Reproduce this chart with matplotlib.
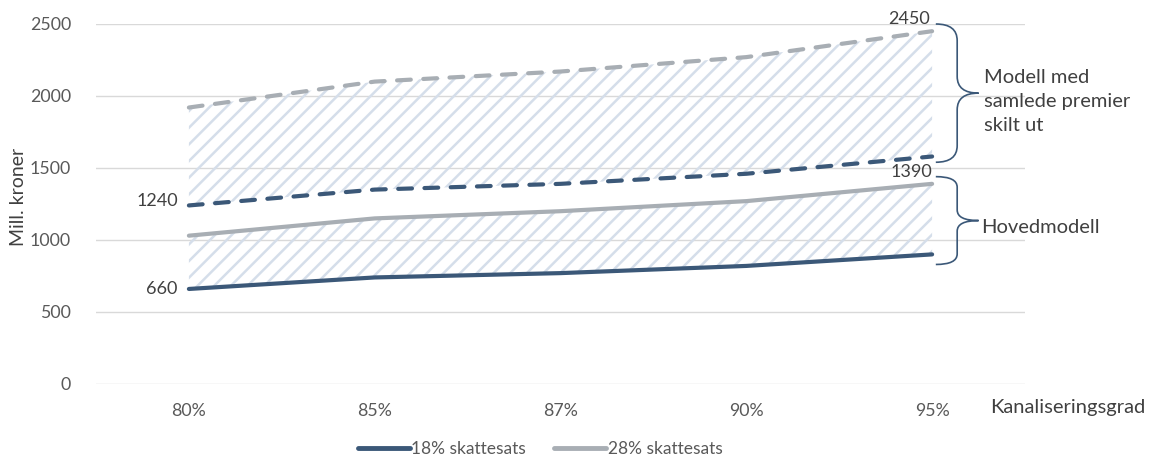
import matplotlib.pyplot as plt
from matplotlib.path import Path
from matplotlib.patches import PathPatch
from matplotlib.lines import Line2D
import numpy as np

plt.rcParams.update({
    "font.family": ["Lato", "DejaVu Sans"],
    "hatch.linewidth": 1.8,
})

# Data
categories = ["80%", "85%", "87%", "90%", "95%"]
main_18 = [660, 740, 770, 820, 900]
main_28 = [1030, 1150, 1200, 1270, 1390]
split_18 = [1240, 1350, 1390, 1460, 1580]
split_28 = [1920, 2100, 2170, 2270, 2450]

DARK = "#3B5878"
GREY = "#A8AEB4"
HATCH = "#D5DEEA"
TXT = "#595959"
TXT2 = "#404040"

fig = plt.figure(figsize=(11.52, 4.59), dpi=100)
ax = fig.add_axes([96 / 1152, 1 - 384 / 459, (1025 - 96) / 1152, 360 / 459])

x = np.arange(len(categories))

# hatched bands
ax.fill_between(x, main_18, main_28, facecolor="none", edgecolor=HATCH,
                hatch="//", linewidth=0, zorder=1)
ax.fill_between(x, split_18, split_28, facecolor="none", edgecolor=HATCH,
                hatch="//", linewidth=0, zorder=1)

ax.plot(x, main_18, color=DARK, lw=3, solid_capstyle="round", zorder=3)
ax.plot(x, main_28, color=GREY, lw=3, solid_capstyle="round", zorder=3)
ax.plot(x, split_18, color=DARK, lw=3, ls=(0, (3.3, 3.0)),
        dash_capstyle="round", zorder=3)
ax.plot(x, split_28, color=GREY, lw=3, ls=(0, (3.3, 3.0)),
        dash_capstyle="round", zorder=3)

ax.set_xlim(-0.5, len(categories) - 0.5)
ax.set_ylim(0, 2500)
ax.set_yticks(np.arange(0, 2501, 500))
ax.set_xticks(x)
ax.set_xticklabels(categories)
ax.grid(axis="y", color="#D9D9D9", lw=1.0, zorder=0)
ax.set_axisbelow(True)
for s in ax.spines.values():
    s.set_visible(False)
ax.tick_params(length=0, labelsize=12.8, colors=TXT, pad=14)
ax.tick_params(axis="y", pad=18)
ax.set_ylabel("Mill. kroner", fontsize=14, color=TXT2)
ax.yaxis.set_label_coords(-0.074, 0.52)

# data labels
lab = dict(fontsize=13, color=TXT2)
ax.text(x[0] - 0.06, main_18[0], str(main_18[0]), ha="right", va="center", **lab)
ax.text(x[0] - 0.06, split_18[0] + 30, str(split_18[0]), ha="right", va="center", **lab)
ax.text(x[-1] + 0.0, main_28[-1] + 30, str(main_28[-1]), ha="right", va="bottom", **lab)
ax.text(x[-1] - 0.01, split_28[-1] + 30, str(split_28[-1]), ha="right", va="bottom", **lab)


def brace(ax, x0, w, ytop, ybot):
    ym = (ytop + ybot) / 2
    xm = x0 + w / 2
    h = (ytop - ybot)
    r = h * 0.12
    verts = [
        (x0, ytop), (xm, ytop), (xm, ytop - r),
        (xm, ym + r), (xm, ym), (x0 + w, ym),
        (xm, ym), (xm, ym - r),
        (xm, ybot + r), (xm, ybot), (x0, ybot),
    ]
    codes = [Path.MOVETO, Path.CURVE3, Path.CURVE3,
             Path.LINETO, Path.CURVE3, Path.CURVE3,
             Path.CURVE3, Path.CURVE3,
             Path.LINETO, Path.CURVE3, Path.CURVE3]
    ax.add_patch(PathPatch(Path(verts, codes), facecolor="none",
                           edgecolor=DARK, lw=1.2, clip_on=False))


brace(ax, 4.02, 0.23, 2500, 1540)
brace(ax, 4.02, 0.23, 1440, 830)

ax.text(4.28, 1960, "Modell med\nsamlede premier\nskilt ut", fontsize=14.5,
        color=TXT2, ha="left", va="center", linespacing=1.5,
        clip_on=False)
ax.text(4.265, 1085, "Hovedmodell", fontsize=14.5, color=TXT2,
        ha="left", va="center", clip_on=False)

fig.text(990 / 1152, 1 - 408 / 459, "Kanaliseringsgrad", fontsize=14.5,
         color=TXT2, ha="left", va="center")

handles = [Line2D([], [], color=DARK, lw=3.5, solid_capstyle="round"),
           Line2D([], [], color=GREY, lw=3.5, solid_capstyle="round")]
fig.legend(handles, ["18% skattesats", "28% skattesats"], loc="center",
           bbox_to_anchor=(540 / 1152, 1 - 449 / 459), ncol=2, frameon=False,
           fontsize=12.5, handlelength=3.0, handletextpad=0.1, columnspacing=1.6,
           labelcolor=TXT)

fig.savefig("out.png", dpi=100)
